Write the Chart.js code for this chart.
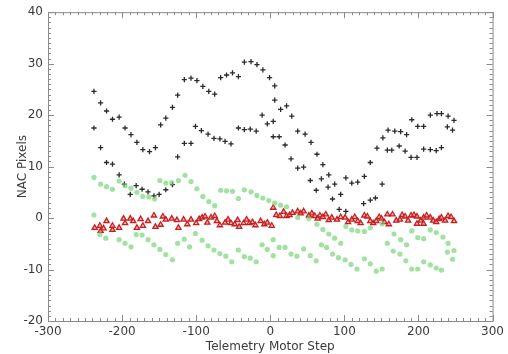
<!DOCTYPE html>
<html>
<head>
<meta charset="utf-8">
<script src="https://cdn.jsdelivr.net/npm/chart.js@4/dist/chart.umd.min.js"></script>
<style>
  html, body { margin: 0; padding: 0; background: #fff; }
  canvas { display: block; }
</style>
</head>
<body>
<canvas id="chart" width="508" height="354"></canvas>
<script>
// ---- data ----
const blackX = [-238,-229,-221,-213,-204,-196,-188,-180,-172,-163,-155,-148,-141,-132,-125,-116,-107,-99,-91,-83,-75,-67,-59,-51,-43,-35,-26,-18,-10,-1,6,6,14,22,29,37,47,55,63,71,79,87,95,102,
  -238,-229,-221,-213,-204,-197,-189,-181,-173,-165,-157,-150,-141,-132,-125,-116,-107,-101,-93,-84,-76,-68,-61,-53,-43,-35,-27,-19,-11,-4,4,4,12,20,28,37,45,54,62,69,78,84,93,102,110,118,127,126,135,135,142,144,151,152,158,159,164,168,174,176,182,184,190,191,198,199,207,207,216,216,224,225,231,231,239,240,246,248];
const blackY = [24.6,22.4,20.8,19.2,19.6,17.5,16.2,14.7,13.3,12.9,13.7,18.1,19.4,21.5,23.9,26.9,27.2,26.7,25.6,24.6,24.1,27.3,27.8,28.2,27.5,30.3,30.4,29.8,28.8,27.3,25.7,22.9,21.1,21.8,19.8,16.9,16.3,14.7,12.4,10.4,8.4,6.6,4.6,1.3,
  17.5,13.7,10.8,10.5,8.4,6.6,4.6,6.3,5.6,5.1,4.3,4.6,5.5,6.5,11.9,14.5,14.5,17.8,17,16.3,15.5,15.4,14.9,14.4,17.5,17.2,17.3,16.9,20,18.3,18.8,15.8,15.8,14.2,11.5,9.7,9.9,7.3,5.4,7.6,6,3.7,1.7,7.8,6.8,7,8.1,2.8,3.5,10.8,3.9,13.6,6.6,15.6,13.2,17.1,13.2,16.9,14,16.8,13,16.2,11.8,19.1,11.8,17.8,17.8,13.4,13.3,20,13.1,20.3,13.7,20.3,17.7,19.8,17.1,19];

const greenX = [-238,-229,-221,-213,-204,-196,-188,-180,-172,-164,-156,-149,-141,-133,-124,-115,-107,-99,-91,-83,-75,-67,-59,-51,-43,-35,-26,-18,-10,-2,6,14,22,37,52,63,71,79,87,95,102,110,118,127,135,151,
  -238,-230,-222,-204,-196,-188,-181,-173,-165,-157,-149,-141,-132,-125,-116,-109,-101,-92,-84,-76,-68,-60,-52,-43,-35,-27,-19,-11,-4,4,4,12,20,28,36,45,54,62,69,76,84,92,101,109,117,127,135,143,151,158,166,175,183,191,199,207,216,224,231,
  167,176,184,191,199,207,216,224,233,240,248,239,246];
const greenY = [7.9,6.6,6.1,5.6,7.2,6.3,5.8,5,4.2,4.1,3.7,7.3,6.8,6.9,7.3,8.3,7.1,5.7,4.2,3.2,2.4,5.4,5.3,5.2,3.8,5.5,5.1,4.4,3.9,3.4,2.9,2.5,2.2,0.1,-0.1,-1.2,-2.2,-3.1,-3.9,-4.9,-1.6,-2.3,-2.5,-2.6,-1.9,-1.1,
  0.6,-3.2,-3.9,-4.2,-4.9,-5.6,-3.2,-3.3,-4.2,-5.2,-6.1,-7.1,-8.1,-4.9,-4.1,-5.6,-3,-4.3,-5.4,-6.2,-6.9,-7.4,-8.5,-6.2,-7.5,-7.8,-8.5,-5.2,-6.1,-4.2,-7.3,-5.7,-5.7,-7,-7.4,-6,-7.3,-8.3,-5.2,-5.7,-7,-7.7,-8.1,-9,-9.9,-7.9,-8.9,-10.3,-9.9,-4.9,-6.4,-7,-8.3,-9.9,-9.9,-8.5,-9.1,-9.7,-10.1,
  -3.1,-4.2,-5.2,-2.5,-3.8,-4,-2.3,-2.8,-3.7,-4.9,-6.3,-6.6,-8];

const redX = [-237,-230,-229,-225,-221,-213,-213,-204,-198,-196,-189,-185,-180,-175,-172,-165,-157,-155,-148,-145,-141,-133,-126,-124,-117,-112,-107,-100,-96,-92,-88,-85,-80,-75,-72,-68,-61,-57,-53,-48,-44,-42,-36,-32,-28,-24,-20,-13,-8,-4,2,4,8,13,18,22,26,30,37,41,45,52,56,60,64,67,71,75,79,83,90,95,101,105,110,114,118,122,127,131,135,139,143,147,150,154,158,160,165,170,175,178,182,186,190,194,198,198,203,207,207,211,216,220,224,228,231,236,240,244,248];
const redY = [-1.9,-1.5,-2.5,-2,-0.6,-2.3,-1.5,-1.9,-0.1,-1,-0.1,-0.6,-1.9,-0.2,-1.5,-0.6,0.5,-1.7,-1.3,0.3,-0.3,-0.1,-0.4,-1.9,-0.3,-1.2,-0.3,-1,-0.2,0.1,0.3,-0.9,0.1,0.4,-0.6,-1.4,-0.9,-0.3,-1,-1.2,-0.4,-1.7,-1,-0.3,-1,-0.8,-1.4,-0.6,-1.2,-0.9,-1.5,2,0.6,0.4,1.2,0.4,0.6,1,1.3,0.9,1.3,0.5,0.9,0.4,-0.1,0.5,0.2,0.7,-0.4,0.1,-0.3,0.2,0.1,-0.8,-0.3,0.2,-0.6,-1,0.5,0.3,-0.6,-1,-0.6,0.2,-0.1,-0.8,0.7,-1.2,0.7,-0.5,-0.3,0.6,0.3,-0.5,0.5,0.6,0.3,-1.1,-0.5,0.1,-1.1,0.5,0.1,-0.5,-0.8,-0.2,0.1,-0.5,0.4,0.2,-0.6];

const xTicks = [-300, -200, -100, 0, 100, 200, 300];
const yTicks = [-20, -10, 0, 10, 20, 30, 40];

function toPoints(xs, ys) {
  return xs.map((x, i) => ({ x: x, y: ys[i] }));
}

// frame with inward major/minor tick marks on all four sides
const frameTicks = {
  id: "frameTicks",
  afterDraw(chart) {
    const { ctx, chartArea: a, scales } = chart;
    ctx.save();
    ctx.strokeStyle = "#8a8a8a";
    ctx.lineWidth = 1;
    ctx.strokeRect(a.left + 0.5, a.top + 0.5, a.right - a.left, a.bottom - a.top);
    ctx.beginPath();
    for (let v = xTicks[0]; v <= xTicks[xTicks.length - 1]; v += 10) {
      const px = Math.round(scales.x.getPixelForValue(v)) + 0.5;
      const len = v % 100 === 0 ? 6 : 3;
      ctx.moveTo(px, a.bottom); ctx.lineTo(px, a.bottom - len);
      ctx.moveTo(px, a.top); ctx.lineTo(px, a.top + len);
    }
    for (let v = yTicks[0]; v <= yTicks[yTicks.length - 1]; v += 1) {
      const py = Math.round(scales.y.getPixelForValue(v)) + 0.5;
      const len = v % 10 === 0 ? 6 : 3;
      ctx.moveTo(a.left, py); ctx.lineTo(a.left + len, py);
      ctx.moveTo(a.right, py); ctx.lineTo(a.right - len, py);
    }
    ctx.stroke();
    ctx.restore();
  }
};

const font = { family: "'DejaVu Sans', Verdana, sans-serif", size: 12 };

new Chart(document.getElementById("chart"), {
  type: "scatter",
  data: {
    datasets: [
      {
        label: "green",
        data: toPoints(greenX, greenY),
        pointStyle: "circle",
        pointRadius: 2.6,
        backgroundColor: "rgba(110, 210, 110, 0.65)",
        borderColor: "rgba(110, 210, 110, 0.65)",
        borderWidth: 0
      },
      {
        label: "red",
        data: toPoints(redX, redY),
        pointStyle: "triangle",
        pointRadius: 3,
        backgroundColor: "rgba(235, 150, 150, 0.7)",
        borderColor: "#c81e1e",
        borderWidth: 1.3
      },
      {
        label: "black",
        data: toPoints(blackX, blackY),
        pointStyle: "cross",
        pointRadius: 2.6,
        borderColor: "#2a2a2a",
        borderWidth: 1.3
      }
    ]
  },
  options: {
    responsive: false,
    animation: false,
    devicePixelRatio: 1,
    layout: { padding: { top: 10, right: 15, left: 0, bottom: 0 } },
    plugins: { legend: { display: false }, tooltip: { enabled: false } },
    scales: {
      x: {
        type: "linear",
        min: -300, max: 300,
        afterBuildTicks: s => { s.ticks = xTicks.map(v => ({ value: v })); },
        afterFit: s => { s.height = 33; },
        grid: { display: false, drawTicks: false },
        border: { display: false },
        ticks: { color: "#3a3a3a", font: font, padding: 4, maxRotation: 0 },
        title: { display: true, text: "Telemetry Motor Step", color: "#3a3a3a", font: font, padding: { top: 4, bottom: 0 } }
      },
      y: {
        type: "linear",
        min: -20, max: 40,
        afterBuildTicks: s => { s.ticks = yTicks.map(v => ({ value: v })); },
        afterFit: s => { s.width = 48; },
        grid: { display: false, drawTicks: false },
        border: { display: false },
        ticks: { color: "#3a3a3a", font: font, padding: 5 },
        title: { display: true, text: "NAC Pixels", color: "#3a3a3a", font: font, padding: { top: 16, bottom: 0 } }
      }
    }
  },
  plugins: [frameTicks]
});
</script>
</body>
</html>
